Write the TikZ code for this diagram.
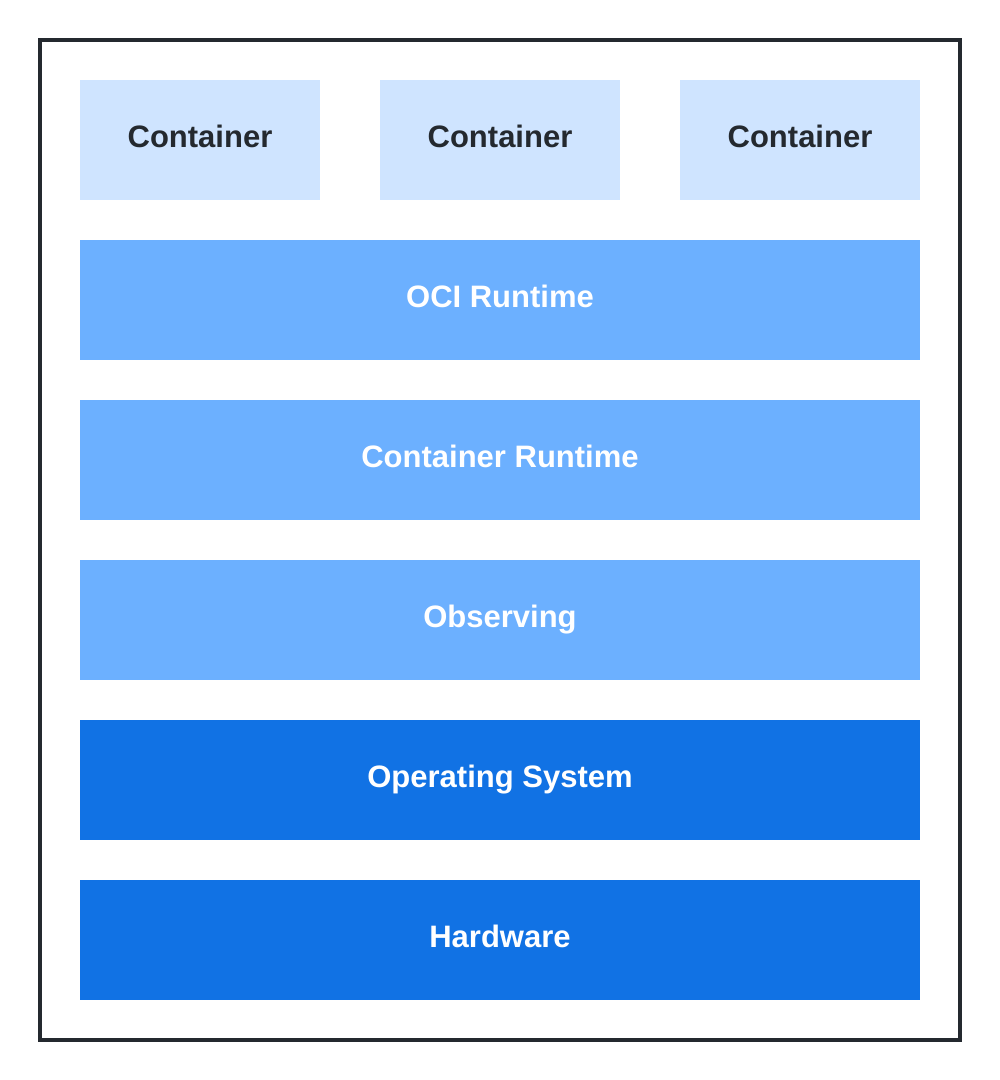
\documentclass[tikz,border=0pt]{standalone}
\usepackage{fontspec}
\setmainfont{Liberation Sans}
\definecolor{frame}{HTML}{24292F}
\definecolor{light}{HTML}{CFE4FF}
\definecolor{mid}{HTML}{6CB0FF}
\definecolor{dark}{HTML}{1172E4}
\begin{document}
\begin{tikzpicture}[x=1pt,y=-1pt,
  box/.style={draw=none,inner sep=0pt,text height=22pt,text depth=8pt,font=\fontsize{31}{36}\selectfont\bfseries},
  cont/.style={box,fill=light,text=frame,minimum width=240pt,minimum height=120pt},
  bar/.style={box,text=white,minimum width=840pt,minimum height=120pt}]
\useasboundingbox (0,0) rectangle (1000,1080);
\draw[frame,line width=4pt] (40,40) rectangle (960,1040);
\node[cont] (c1) at (200,140) {Container};
\node[cont] (c2) at (500,140) {Container};
\node[cont] (c3) at (800,140) {Container};
\node[bar,fill=mid] (oci) at (500,300) {OCI Runtime};
\node[bar,fill=mid] (cr) at (500,460) {Container Runtime};
\node[bar,fill=mid] (obs) at (500,620) {Observing};
\node[bar,fill=dark] (os) at (500,780) {Operating System};
\node[bar,fill=dark] (hw) at (500,940) {Hardware};
\end{tikzpicture}
\end{document}
